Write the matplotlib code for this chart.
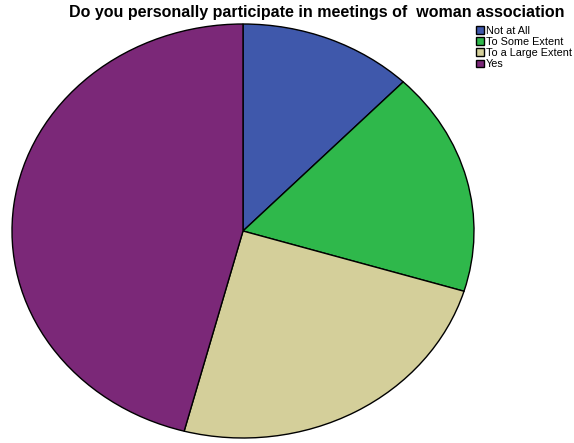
import matplotlib.pyplot as plt

# share of respondents per answer
labels = ["Not at All", "To Some Extent", "To a Large Extent", "Yes"]
shares = [12.2, 17.5, 24.4, 45.9]
colors = ["#3f58ab", "#2fb84b", "#d4cf9a", "#7b2878"]

plt.rcParams['font.family'] = ['Liberation Sans', 'DejaVu Sans']

fig = plt.figure(figsize=(5.74, 4.43), dpi=100)
ax = fig.add_axes([12 / 574, 5 / 443, 462 / 574, 414 / 443])
wedges, _ = ax.pie(shares, colors=colors, startangle=90, counterclock=False,
                   wedgeprops={'edgecolor': 'black', 'linewidth': 1.0})
ax.set_aspect('auto')
ax.set_xlim(-1, 1)
ax.set_ylim(-1, 1)
ax.axis('off')

fig.text(317 / 574, 1 - 13 / 443, "Do you personally participate in meetings of  woman association",
         ha='center', va='center', fontsize=11.5, fontweight='bold')

fig.legend(wedges, labels, loc='upper left', bbox_to_anchor=(476 / 574, 1 - 26 / 443),
           frameon=False, fontsize=7.8, handlelength=0.75, handleheight=0.75,
           handletextpad=0.15, labelspacing=0.1, borderaxespad=0, borderpad=0)

fig.savefig("out.png", dpi=100)
